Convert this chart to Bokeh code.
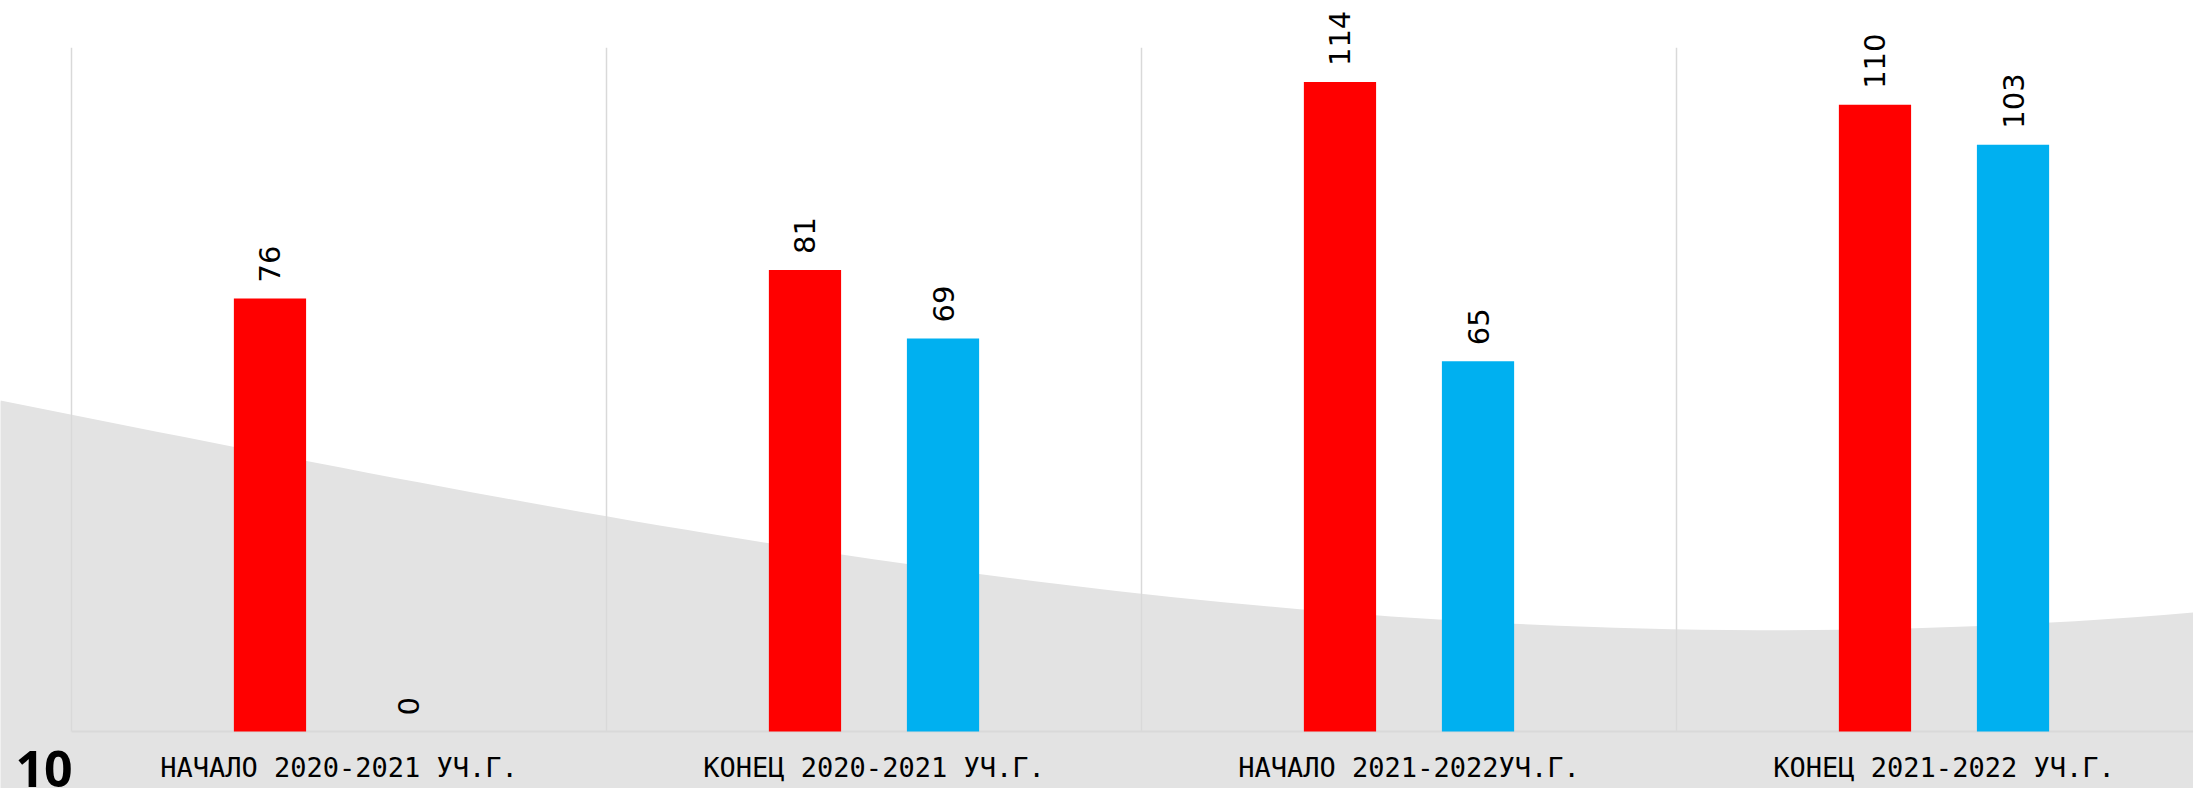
import math
from bokeh.plotting import figure
from bokeh.models import Range1d, ColumnDataSource
from bokeh.core.properties import value
from bokeh.embed import file_html
from bokeh.resources import INLINE

# ---------------- data ----------------
categories = [
    "НАЧАЛО 2020-2021 УЧ.Г.",
    "КОНЕЦ 2020-2021 УЧ.Г.",
    "НАЧАЛО 2021-2022УЧ.Г.",
    "КОНЕЦ 2021-2022 УЧ.Г.",
]
series_red = [76, 81, 114, 110]
series_blue = [0, 69, 65, 103]
slide_number = "10"

# ---------------- layout ----------------
W, H = 2193, 788
PX_PER_CAT = 535.0
PX_PER_UNIT = 5.697
BASE_X, BASE_Y = 71, 731          # canvas position of (0, 0)
X0 = -BASE_X / PX_PER_CAT
X1 = (W - BASE_X) / PX_PER_CAT
Y0 = -(H - BASE_Y) / PX_PER_UNIT
Y1 = BASE_Y / PX_PER_UNIT
GRID_TOP = 120

RED = "#FF0000"
BLUE = "#00B0F0"
GRID = "#D9D9D9"
BG = "#E3E3E3"

p = figure(width=W, height=H, x_range=Range1d(X0, X1), y_range=Range1d(Y0, Y1),
           x_axis_type=None, y_axis_type=None, output_backend="svg",
           toolbar_location=None, min_border=0)
p.background_fill_color = "white"
p.border_fill_color = "white"
p.outline_line_color = None


def to_data(px, py):
    """canvas pixel -> data coordinates (used for decoration only)"""
    u = X0 + px / W * (X1 - X0)
    v = Y1 - py / H * (Y1 - Y0)
    return u, v


# decorative grey wave (slide background)
ctrl = [(0, 400), (700, 540), (1400, 680), (2193, 612)]
bx, by = [], []
n = 80
for k in range(n + 1):
    t = k / n
    c = [(1 - t) ** 3, 3 * (1 - t) ** 2 * t, 3 * (1 - t) * t ** 2, t ** 3]
    px = sum(ci * pt[0] for ci, pt in zip(c, ctrl))
    py = sum(ci * pt[1] for ci, pt in zip(c, ctrl))
    u, v = to_data(px, py)
    bx.append(u)
    by.append(v)
bx += [X1 + 0.2, X0 - 0.2]
by += [Y0 - 20, Y0 - 20]
p.patch(bx, by, fill_color=BG, line_color=None)

# vertical separators between categories + baseline
ncat = len(categories)
bounds_x = list(range(ncat + 1))
p.segment(x0=bounds_x, y0=[0] * len(bounds_x), x1=bounds_x, y1=[GRID_TOP] * len(bounds_x),
          line_color=GRID, line_width=1.5)
p.segment(x0=[0], y0=[0], x1=[ncat], y1=[0], line_color=GRID, line_width=2)

# bars
OFF = 0.129
BW = 0.135
xr = [i + 0.5 - OFF for i in range(ncat)]
xb = [i + 0.5 + OFF for i in range(ncat)]
p.vbar(x=xr, top=series_red, bottom=0, width=BW, fill_color=RED, line_color=None)
p.vbar(x=xb, top=series_blue, bottom=0, width=BW, fill_color=BLUE, line_color=None)

# value labels
lab = ColumnDataSource(dict(x=xr + xb, y=series_red + series_blue,
                            t=[str(v) for v in series_red + series_blue]))
p.text(x="x", y="y", text="t", source=lab, angle=math.pi / 2, text_align="left",
       text_baseline="middle", y_offset=-16, text_font=value("DejaVu Sans"),
       text_font_size="29px", text_color="#000000")

# category labels (under the baseline)
cat_src = ColumnDataSource(dict(x=[i + 0.5 for i in range(ncat)], y=[0] * ncat, t=categories))
p.text(x="x", y="y", text="t", source=cat_src, text_align="center",
       text_baseline="middle", y_offset=36, text_font=value("DejaVu Sans Mono"),
       text_font_size="27px", text_color="#000000")

# slide number
sx, sy = to_data(15, 768)
p.text(x=[sx], y=[sy], text=[slide_number], text_align="left", text_baseline="middle",
       text_font=value("Open Sans"), text_font_style="bold", text_font_size="50px",
       text_color="#000000")

open("out.html", "w").write(file_html(p, INLINE))
